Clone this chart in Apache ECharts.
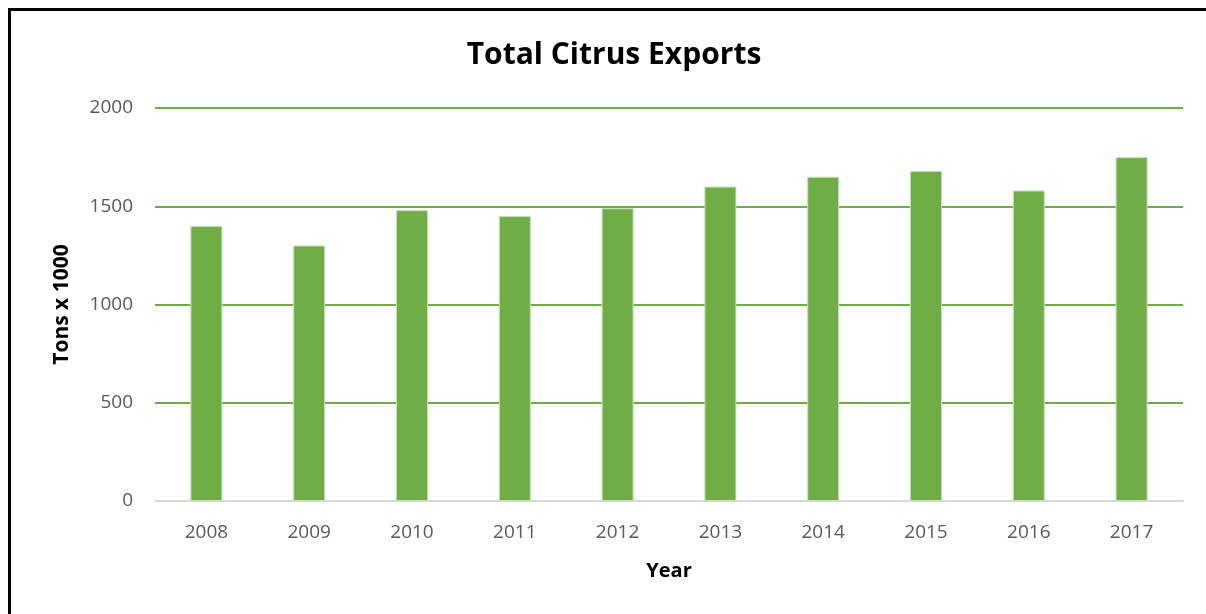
<!DOCTYPE html>
<html>
<head>
<meta charset="utf-8">
<style>
  html, body { margin: 0; padding: 0; background: #fff; }
  #chart { width: 1206px; height: 614px; }
</style>
<script src="https://cdn.jsdelivr.net/npm/echarts@6/dist/echarts.min.js"></script>
</head>
<body>
<div id="chart"></div>
<script>
// Citrus exports per year, in thousands of tons
const years = ['2008', '2009', '2010', '2011', '2012', '2013', '2014', '2015', '2016', '2017'];
const exports = [1400, 1300, 1480, 1450, 1490, 1600, 1650, 1680, 1580, 1750];
const yTicks = [0, 500, 1000, 1500, 2000];

const FONT = '"Open Sans", "Liberation Sans", sans-serif';
const GREEN = '#70AD47';

const chart = echarts.init(document.getElementById('chart'), null, { renderer: 'canvas' });
chart.setOption({
  backgroundColor: '#ffffff',
  animation: false,
  title: {
    text: 'Total Citrus Exports',
    left: 609,
    textAlign: 'center',
    top: 35,
    textStyle: { fontFamily: FONT, fontSize: 30, fontWeight: 'bold', color: '#000' }
  },
  grid: { left: 155, right: 23, top: 108, bottom: 113, containLabel: false },
  xAxis: {
    type: 'category',
    data: years,
    name: 'Year',
    nameLocation: 'middle',
    nameGap: 60,
    nameTextStyle: { fontFamily: FONT, fontSize: 20, fontWeight: 'bold', color: '#000' },
    axisLine: { lineStyle: { color: '#d9d9d9', width: 2 } },
    axisTick: { show: false },
    axisLabel: { fontFamily: FONT, fontSize: 19, color: '#595959', margin: 22 }
  },
  yAxis: {
    type: 'value',
    min: yTicks[0],
    max: yTicks[yTicks.length - 1],
    interval: yTicks[1] - yTicks[0],
    name: 'Tons x 1000',
    nameLocation: 'middle',
    nameGap: 82,
    nameTextStyle: { fontFamily: FONT, fontSize: 21, fontWeight: 'bold', color: '#000' },
    axisLine: { show: false },
    axisTick: { show: false },
    axisLabel: {
      fontFamily: FONT, fontSize: 19, color: '#595959', margin: 22,
      formatter: (v) => String(v)
    },
    splitLine: { lineStyle: { color: GREEN, width: 2 } }
  },
  series: [{
    type: 'bar',
    data: exports,
    barWidth: 32,
    itemStyle: { color: GREEN, borderColor: '#c5e0b4', borderWidth: 1 },
    z: 3
  }],
  graphic: [
    { type: 'rect', shape: { x: 8, y: 8, width: 1198, height: 3 }, style: { fill: '#000' }, z: 100 },
    { type: 'rect', shape: { x: 8, y: 8, width: 3, height: 606 }, style: { fill: '#000' }, z: 100 }
  ]
});
</script>
</body>
</html>
